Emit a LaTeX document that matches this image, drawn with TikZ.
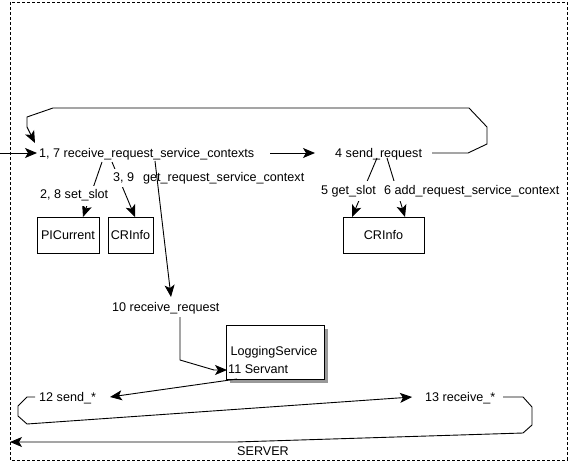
\documentclass[tikz,border=0pt]{standalone}
\usepackage{fontspec}
\setmainfont{Liberation Sans}
\usetikzlibrary{arrows.meta,shadows}
\begin{document}
\begin{tikzpicture}[x=1pt,y=-1pt,
  every node/.style={font=\fontsize{12.6}{15}\selectfont},
  txt/.style={inner sep=0pt, anchor=base west},
  elbl/.style={inner xsep=1pt, inner ysep=4pt, anchor=base west, fill=white},
  conn/.style={line width=0.9pt},
  arr/.style={conn, -{Stealth[length=12pt,width=10pt,inset=3pt]}},
  objbox/.style={draw, line width=0.9pt, fill=white, inner sep=0pt, minimum height=36pt},
  frame/.style={line width=0.9pt, dash pattern=on 3pt off 2pt}
]
\useasboundingbox (0,0) rectangle (569,462);
\draw[frame] (10,2) rectangle (567,460);

% object boxes
\node[objbox, minimum width=62pt] (picur) at (68,235) {PICurrent};
\node[objbox, minimum width=45pt] (crinfoA) at (130.5,235) {CRInfo};
\node[objbox, minimum width=81pt] (crinfoB) at (383.5,235) {CRInfo};
\node[draw, line width=0.9pt, fill=white, minimum width=98pt, minimum height=54pt, inner sep=0pt,
      drop shadow={shadow xshift=4pt, shadow yshift=-4pt, fill=black!40, opacity=1}] (logsvc) at (275,352) {};
\node[txt, anchor=base] (logname) at (274,355) {LoggingService};
\node[txt] (servant) at (228,373) {11 Servant};

% text nodes
\node[txt] (rrsc) at (39,158) {1, 7 receive\_request\_service\_contexts};
\node[txt] (sendreq) at (335,158) {4 send\_request};
\node[txt] (getrsc) at (143,181.5) {get\_request\_service\_context};
\node[txt] (recvreq) at (112,311.5) {10 receive\_request};
\node[txt] (send12) at (39,401.5) {12 send\_*};
\node[txt] (recv13) at (425,401.5) {13 receive\_*};
\node[txt] (server) at (237,455) {SERVER};

% named coordinates
\coordinate (inStart) at (0,153);
\coordinate (rrscIn) at (37,153);
\coordinate (rrscTop) at (35,143);
\coordinate (rrscOut) at (270,153);
\coordinate (sendIn) at (315,153);
\coordinate (sendOut) at (432,153);
\coordinate (rrscA) at (102,162);
\coordinate (rrscB) at (112,162);
\coordinate (rrscC) at (155,161);
\coordinate (picurIn) at (83,217);
\coordinate (crinfoAIn) at (135,217);
\coordinate (recvreqIn) at (171,297);
\coordinate (recvreqOut) at (180,317);
\coordinate (servantIn) at (227,370);
\coordinate (logOut) at (237,379);
\coordinate (send12In) at (110,397);
\coordinate (send12Out) at (35,397);
\coordinate (recv13In) at (412,397);
\coordinate (recv13Out) at (503,397);
\coordinate (serverEnd) at (10,442);
\coordinate (sendA) at (377,158);
\coordinate (sendB) at (387,158);
\coordinate (crinfoBInA) at (352,217);
\coordinate (crinfoBInB) at (405,217);

% connectors
\draw[arr] (inStart) -- (rrscIn);
\draw[arr] (sendOut) -- (468,153) -- (487,144) -- (487,127) -- (469,108) -- (53,108) -- (27,117) -- (27,127) -- (rrscTop);
\draw[arr] (rrscOut) -- (sendIn);
\draw[arr] (rrscA) -- (picurIn);
\draw[arr] (rrscB) -- (crinfoAIn);
\draw[arr] (sendA) -- (crinfoBInA);
\draw[arr] (sendB) -- (crinfoBInB);

% edge labels
\node[elbl] (l28) at (39,199) {2, 8 set\_slot};
\node[elbl] (l39) at (112,181.5) {3, 9};
\node[elbl] (l5) at (320,194) {5 get\_slot};
\node[elbl] (l6) at (383,194) {6 add\_request\_service\_context};

\draw[arr] (rrscC) -- (recvreqIn);
\draw[arr] (recvreqOut) -- (180,360) -- (214,370) -- (servantIn);
\draw[arr] (logOut) -- (send12In);
\draw[arr] (send12Out) -- (27,397) -- (18,406) -- (18,416) -- (27,424) -- (recv13In);
\draw[arr] (recv13Out) -- (523,397) -- (532,407) -- (532,425) -- (523,433) -- (236,442) -- (serverEnd);
\end{tikzpicture}
\end{document}
